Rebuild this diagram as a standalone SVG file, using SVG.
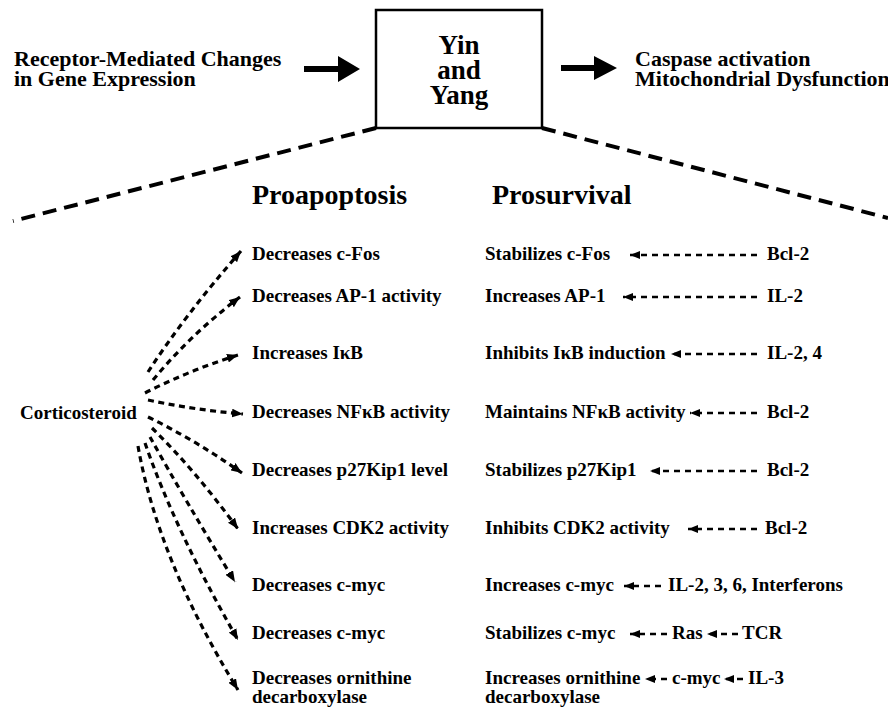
<svg xmlns="http://www.w3.org/2000/svg" width="888" height="713" viewBox="0 0 888 713">
<defs>
<style>
text{font-family:"Liberation Serif","Times New Roman",serif;font-weight:bold;fill:#000}
.top{font-size:22px}
.box{font-size:27px;text-anchor:middle}
.head{font-size:28px}
.row{font-size:19px}
.big{fill:none;stroke:#000;stroke-width:4;stroke-dasharray:14 8}
.fan{fill:none;stroke:#000;stroke-width:3.2;stroke-dasharray:6 4.5}
.rt{fill:none;stroke:#000;stroke-width:2.6;stroke-dasharray:6 5}
</style>
<marker id="ah" viewBox="0 0 10 8" refX="10" refY="4" markerWidth="11" markerHeight="9" markerUnits="userSpaceOnUse" orient="auto">
<path d="M0,0 L10,4 L0,8 z" fill="#000"/>
</marker>
<marker id="ahl" viewBox="0 0 10 8" refX="10" refY="4" markerWidth="10" markerHeight="8" markerUnits="userSpaceOnUse" orient="auto">
<path d="M0,0 L10,4 L0,8 z" fill="#000"/>
</marker>
</defs>
<rect width="888" height="713" fill="#fff"/>

<g id="source">
<text class="top" x="14" y="66">Receptor-Mediated Changes</text>
<text class="top" x="14" y="86">in Gene Expression</text>
</g>
<g id="yinyang">
<rect x="376" y="10" width="166" height="118" fill="#fff" stroke="#000" stroke-width="2.5"/>
<text class="box" x="459" y="54">Yin</text>
<text class="box" x="459" y="79">and</text>
<text class="box" x="459" y="104">Yang</text>
</g>
<g id="outcome">
<text class="top" x="635" y="66">Caspase activation</text>
<text class="top" x="635" y="86">Mitochondrial Dysfunction</text>
</g>
<g id="headings">
<text class="head" x="252" y="204">Proapoptosis</text>
<text class="head" x="492" y="204">Prosurvival</text>
</g>
<g id="corticosteroid">
<text class="row" x="20" y="419">Corticosteroid</text>
</g>
<g id="proapoptosis">
<text class="row" x="252" y="260">Decreases c-Fos</text>
<text class="row" x="252" y="302">Decreases AP-1 activity</text>
<text class="row" x="252" y="359">Increases IκB</text>
<text class="row" x="252" y="418">Decreases NFκB activity</text>
<text class="row" x="252" y="476">Decreases p27Kip1 level</text>
<text class="row" x="252" y="534">Increases CDK2 activity</text>
<text class="row" x="252" y="591">Decreases c-myc</text>
<text class="row" x="252" y="639">Decreases c-myc</text>
<text class="row" x="252" y="684">Decreases ornithine</text>
<text class="row" x="252" y="703">decarboxylase</text>
</g>
<g id="prosurvival">
<text class="row" x="485" y="260">Stabilizes c-Fos</text>
<text class="row" x="485" y="302">Increases AP-1</text>
<text class="row" x="485" y="359">Inhibits IκB induction</text>
<text class="row" x="485" y="418">Maintains NFκB activity</text>
<text class="row" x="485" y="476">Stabilizes p27Kip1</text>
<text class="row" x="485" y="534">Inhibits CDK2 activity</text>
<text class="row" x="485" y="591">Increases c-myc</text>
<text class="row" x="485" y="639">Stabilizes c-myc</text>
<text class="row" x="485" y="684">Increases ornithine</text>
<text class="row" x="485" y="703">decarboxylase</text>
</g>
<g id="regulators">
<text class="row" x="767" y="260">Bcl-2</text>
<text class="row" x="767" y="302">IL-2</text>
<text class="row" x="767" y="359">IL-2, 4</text>
<text class="row" x="767" y="418">Bcl-2</text>
<text class="row" x="767" y="476">Bcl-2</text>
<text class="row" x="765" y="534">Bcl-2</text>
<text class="row" x="668" y="591">IL-2, 3, 6, Interferons</text>
<text class="row" x="672" y="639">Ras</text>
<text class="row" x="742" y="639">TCR</text>
<text class="row" x="672" y="684">c-myc</text>
<text class="row" x="748" y="684">IL-3</text>
</g>

<g id="connectors">
<polygon points="304,66 338,66 338,56 360,69 338,82 338,72 304,72" fill="#000"/>
<polygon points="561,65 594,65 594,56 617,68 594,80 594,71 561,71" fill="#000"/>
<line class="big" x1="376" y1="128" x2="13" y2="221"/>
<line class="big" x1="542" y1="128" x2="888" y2="218"/>

<path class="fan" d="M148,372 Q185,315 241,251" marker-end="url(#ah)"/>
<path class="fan" d="M153,380 Q190,335 240,297" marker-end="url(#ah)"/>
<path class="fan" d="M145,393 Q190,370 238,355" marker-end="url(#ah)"/>
<path class="fan" d="M148,400 Q195,410 243,414" marker-end="url(#ah)"/>
<path class="fan" d="M148,417 Q195,440 242,473" marker-end="url(#ah)"/>
<path class="fan" d="M152,428 Q195,470 238,529" marker-end="url(#ah)"/>
<path class="fan" d="M150,437 Q185,500 235,582" marker-end="url(#ah)"/>
<path class="fan" d="M145,443 Q175,530 238,640" marker-end="url(#ah)"/>
<path class="fan" d="M138,446 Q158,560 238,690" marker-end="url(#ah)"/>

<line class="rt" x1="757" y1="255" x2="630" y2="255" marker-end="url(#ahl)"/>
<line class="rt" x1="757" y1="297" x2="623" y2="297" marker-end="url(#ahl)"/>
<line class="rt" x1="757" y1="354" x2="671" y2="354" marker-end="url(#ahl)"/>
<line class="rt" x1="757" y1="413" x2="690" y2="413" marker-end="url(#ahl)"/>
<line class="rt" x1="757" y1="471" x2="650" y2="471" marker-end="url(#ahl)"/>
<line class="rt" x1="757" y1="529" x2="688" y2="529" marker-end="url(#ahl)"/>
<line class="rt" x1="661" y1="586" x2="624" y2="586" marker-end="url(#ahl)"/>
<line class="rt" x1="667" y1="634" x2="630" y2="634" marker-end="url(#ahl)"/>
<line class="rt" x1="738" y1="634" x2="707" y2="634" marker-end="url(#ahl)"/>
<line class="rt" x1="667" y1="679" x2="645" y2="679" marker-end="url(#ahl)"/>
<line class="rt" x1="743" y1="679" x2="724" y2="679" marker-end="url(#ahl)"/>
</g>
</svg>
